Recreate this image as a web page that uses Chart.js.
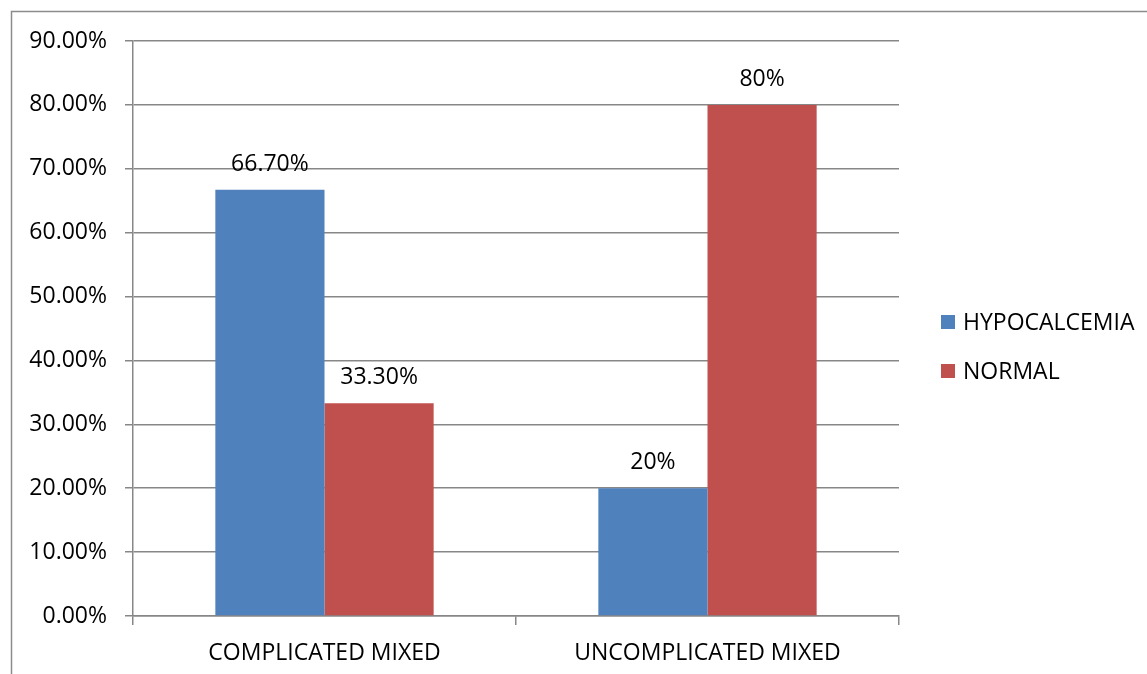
<!DOCTYPE html>
<html>
<head>
<meta charset="utf-8">
<script src="https://cdn.jsdelivr.net/npm/chart.js@4"></script>
<style>
  body { margin: 0; background: #fff; }
  #wrap { width: 1147px; height: 674px; position: relative; }
</style>
</head>
<body>
<div id="wrap"><canvas id="chart" width="1147" height="674"></canvas></div>
<script>
// categories and series
var categories = ["COMPLICATED MIXED", "UNCOMPLICATED MIXED"];
var seriesNames = ["HYPOCALCEMIA", "NORMAL"];
var seriesColors = ["#4F81BD", "#C0504D"];
var hypocalcemia = [66.7, 20];
var normal = [33.3, 80];
var valueLabels = [["66.70%", "20%"], ["33.30%", "80%"]];

var FONT = "'Open Sans', sans-serif";

// gray frame around the picture, like the source document
var framePlugin = {
  id: "frame",
  beforeDraw: function(chart) {
    var ctx = chart.ctx;
    ctx.save();
    ctx.strokeStyle = "#8c8c8c";
    ctx.lineWidth = 1.5;
    ctx.beginPath();
    ctx.moveTo(11.5, 674);
    ctx.lineTo(11.5, 11.5);
    ctx.lineTo(1147, 11.5);
    ctx.stroke();
    ctx.restore();
  }
};

// value labels above each bar
var labelPlugin = {
  id: "valueLabels",
  afterDatasetsDraw: function(chart) {
    var ctx = chart.ctx;
    ctx.save();
    ctx.font = "23px " + FONT;
    ctx.fillStyle = "#000";
    ctx.textAlign = "center";
    ctx.textBaseline = "alphabetic";
    chart.data.datasets.forEach(function(ds, i) {
      chart.getDatasetMeta(i).data.forEach(function(bar, j) {
        ctx.fillText(valueLabels[i][j], bar.x, bar.y - 19);
      });
    });
    ctx.restore();
  }
};

// legend on the right, drawn from the datasets
var legendPlugin = {
  id: "sideLegend",
  afterDraw: function(chart) {
    var ctx = chart.ctx;
    var x = chart.chartArea.right + 42;
    var y0 = 322, step = 49;
    ctx.save();
    ctx.font = "23px " + FONT;
    ctx.textBaseline = "middle";
    chart.data.datasets.forEach(function(ds, i) {
      var y = y0 + i * step;
      ctx.fillStyle = ds.backgroundColor;
      ctx.fillRect(x, y - 7, 14, 14);
      ctx.fillStyle = "#000";
      ctx.fillText(ds.label, x + 22, y + 1);
    });
    ctx.restore();
  }
};

new Chart(document.getElementById("chart"), {
  type: "bar",
  data: {
    labels: categories,
    datasets: [
      { label: seriesNames[0], data: hypocalcemia, backgroundColor: seriesColors[0] },
      { label: seriesNames[1], data: normal, backgroundColor: seriesColors[1] }
    ]
  },
  options: {
    responsive: false,
    animation: false,
    layout: { padding: { left: 0, top: 41, right: 248, bottom: 0 } },
    plugins: { legend: { display: false }, tooltip: { enabled: false } },
    datasets: { bar: { categoryPercentage: 0.57, barPercentage: 1 } },
    scales: {
      y: {
        min: 0, max: 90,
        ticks: {
          stepSize: 10,
          color: "#000",
          padding: 18,
          font: { family: FONT, size: 23 },
          callback: function(v) { return v.toFixed(2) + "%"; }
        },
        grid: { color: "#878787", lineWidth: 1.5, tickLength: 8 },
        border: { color: "#878787", width: 1.5 },
        afterFit: function(scale) { scale.width = 133; }
      },
      x: {
        ticks: {
          color: "#000",
          padding: 15,
          font: { family: FONT, size: 23 }
        },
        grid: { offset: true, drawOnChartArea: false, color: "#878787", lineWidth: 1.5, tickLength: 9 },
        border: { color: "#878787", width: 1.5 },
        afterFit: function(scale) { scale.height = 58; }
      }
    }
  },
  plugins: [framePlugin, labelPlugin, legendPlugin]
});
</script>
</body>
</html>
